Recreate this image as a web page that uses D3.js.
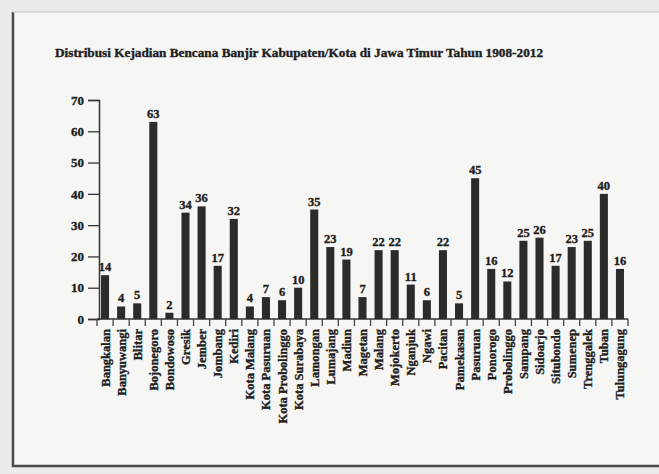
<!doctype html>
<html>
<head>
<meta charset="utf-8" />
<title>Distribusi Kejadian Bencana Banjir</title>
<style>
  html,body{margin:0;padding:0;background:#ebebeb}
  svg{display:block}
  .lbl{font-family:"Liberation Serif","Times New Roman",serif;font-weight:bold;fill:#1e1e1e;
       stroke:#1e1e1e;stroke-width:0.35px}
</style>
</head>
<body>
<svg id="chart" width="659" height="474"></svg>
<script src="https://cdn.jsdelivr.net/npm/d3@7"></script>
<script>
const title = 'Distribusi Kejadian Bencana Banjir Kabupaten/Kota di Jawa Timur Tahun 1908-2012';

const regions = ['Bangkalan','Banyuwangi','Blitar','Bojonegoro','Bondowoso','Gresik','Jember',
  'Jombang','Kediri','Kota Malang','Kota Pasuruan','Kota Probolinggo','Kota Surabaya','Lamongan',
  'Lumajang','Madiun','Magetan','Malang','Mojokerto','Nganjuk','Ngawi','Pacitan','Pamekasan',
  'Pasuruan','Ponorogo','Probolinggo','Sampang','Sidoarjo','Situbondo','Sumenep','Trenggalek',
  'Tuban','Tulungagung'];

const events = [14,4,5,63,2,34,36,17,32,4,7,6,10,35,23,19,7,22,22,11,6,22,5,45,16,12,25,26,17,23,25,40,16];

const yTicks = [0,10,20,30,40,50,60,70];

const svg = d3.select('#chart');

// scanned page frame
svg.append('rect').attr('x',13).attr('y',12).attr('width',660).attr('height',454)
  .attr('fill','#f6f6f5').attr('stroke','none');
svg.append('path').attr('d','M13,12 V466 H673').attr('fill','none')
  .attr('stroke','#4a4a4a').attr('stroke-width',2.5);
svg.append('path').attr('d','M13,12 H673').attr('fill','none')
  .attr('stroke','#cfcfcf').attr('stroke-width',1.5);

const x = d3.scaleBand().domain(regions).range([97,628]).paddingInner(0.5).paddingOuter(0.25);
const y = d3.scaleLinear().domain([0,70]).range([319,100]);

svg.append('text').attr('class','lbl')
  .attr('x',55).attr('y',57)
  .attr('textLength',488).attr('lengthAdjust','spacingAndGlyphs')
  .style('font-size','12.5px')
  .text(title);

// y axis
const yAxis = svg.append('g').attr('transform','translate(99,0)')
  .call(d3.axisLeft(y).tickValues(yTicks).tickSize(11).tickPadding(4));
yAxis.select('.domain').attr('stroke','#333').attr('stroke-width',1.5);
yAxis.selectAll('.tick line').attr('stroke','#333').attr('stroke-width',1.3);
yAxis.selectAll('.tick text').attr('class','lbl').style('font-size','13px');

// x axis line and ticks at band edges
svg.append('line').attr('x1',97).attr('x2',628).attr('y1',y(0)).attr('y2',y(0))
  .attr('stroke','#333').attr('stroke-width',1.5);
const edges = d3.range(regions.length + 1).map(i => 97 + i * x.step());
svg.append('g').selectAll('line').data(edges).join('line')
  .attr('x1',d=>d).attr('x2',d=>d).attr('y1',y(0)).attr('y2',y(0)+7)
  .attr('stroke','#444').attr('stroke-width',1.3);

// bars
svg.append('g').selectAll('rect').data(events).join('rect')
  .attr('x',(d,i)=>x(regions[i]))
  .attr('y',d=>y(d))
  .attr('width',x.bandwidth())
  .attr('height',d=>y(0)-y(d))
  .attr('fill','#2b2b2b');

// value labels
svg.append('g').selectAll('text').data(events).join('text')
  .attr('class','lbl')
  .attr('x',(d,i)=>x(regions[i]) + x.bandwidth()/2)
  .attr('y',d=>y(d)-4)
  .attr('text-anchor','middle')
  .style('font-size','12.5px')
  .text(d=>d);

// category labels
svg.append('g').selectAll('text').data(regions).join('text')
  .attr('class','lbl')
  .attr('transform',d=>`translate(${x(d)+x.bandwidth()/2+4.5},329) rotate(-90)`)
  .attr('text-anchor','end')
  .style('font-size','12.5px')
  .text(d=>d);
</script>
</body>
</html>
